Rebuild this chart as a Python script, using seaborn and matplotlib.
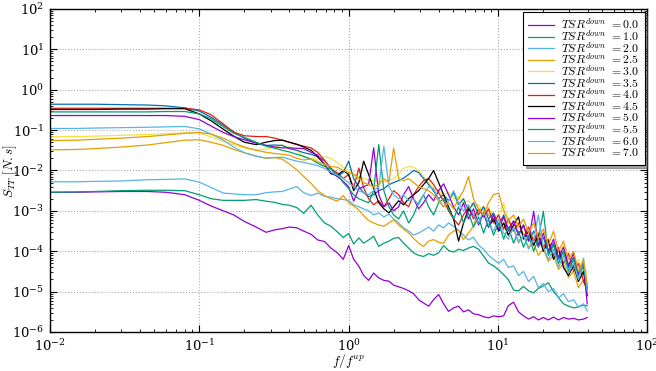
import numpy as np
import pandas as pd
import matplotlib
matplotlib.use('Agg')
import matplotlib.pyplot as plt
import seaborn as sns

# normalised frequency f / f^up
freq = [0.01, 0.015, 0.02, 0.03, 0.045, 0.06, 0.08, 0.1, 0.12, 0.145, 0.17, 0.2, 0.24, 0.28,
        0.32, 0.36, 0.4, 0.45, 0.5, 0.56, 0.62, 0.69, 0.76, 0.84, 0.92,
        1.0, 1.08, 1.17, 1.26, 1.36, 1.47, 1.59, 1.72, 1.86, 2.0,
        2.16, 2.33, 2.52, 2.72, 2.94, 3.17, 3.43, 3.7, 4.0, 4.32,
        4.66, 5.04, 5.44, 5.87, 6.34, 6.85, 7.4, 8.0, 8.63, 9.32,
        10.1, 10.9, 11.7, 12.7, 13.7, 14.8, 16.0, 17.3, 18.6, 20.1,
        21.7, 23.5, 25.4, 27.4, 29.6, 32.0, 34.5, 37.3, 39.5]

# log10 of S_TT for each downstream TSR
log_00 = [-2.54, -2.54, -2.53, -2.52, -2.52, -2.54, -2.60, -2.74, -2.88, -3.00, -3.10, -3.26, -3.40, -3.53,
          -3.47, -3.44, -3.40, -3.42, -3.50, -3.58, -3.72, -3.76, -3.92, -4.04, -4.20,
          -3.86, -4.20, -4.37, -4.60, -4.72, -4.54, -4.66, -4.72, -4.74, -4.84,
          -4.88, -4.92, -4.98, -5.05, -5.20, -5.28, -5.36, -5.20, -5.07, -5.30,
          -5.49, -5.40, -5.36, -5.50, -5.45, -5.55, -5.57, -5.62, -5.65, -5.60,
          -5.62, -5.60, -5.35, -5.26, -5.50, -5.60, -5.68, -5.62, -5.70, -5.64,
          -5.70, -5.63, -5.70, -5.64, -5.68, -5.66, -5.70, -5.68, -5.64]
log_10 = [-2.54, -2.53, -2.52, -2.50, -2.49, -2.49, -2.50, -2.60, -2.70, -2.74, -2.74, -2.74, -2.72, -2.76,
          -2.79, -2.84, -2.86, -2.92, -3.06, -2.86, -3.10, -3.30, -3.38, -3.52, -3.66,
          -3.56, -3.82, -3.67, -3.80, -3.72, -3.63, -3.88, -3.80, -3.75, -3.68,
          -3.66, -3.80, -3.92, -4.04, -4.10, -4.13, -4.06, -4.10, -4.04, -3.86,
          -3.98, -4.02, -3.95, -3.98, -3.92, -3.88, -3.95, -4.12, -4.29, -4.36,
          -4.46, -4.58, -4.70, -4.96, -4.98, -4.87, -4.98, -5.03, -4.92, -4.86,
          -4.78, -5.00, -5.15, -5.30, -5.36, -5.40, -5.38, -5.33, -5.35]
log_20 = [-2.28, -2.28, -2.27, -2.26, -2.23, -2.22, -2.21, -2.29, -2.42, -2.56, -2.58, -2.60, -2.60, -2.55,
          -2.53, -2.52, -2.46, -2.40, -2.55, -2.62, -2.56, -2.64, -2.66, -2.70, -2.72,
          -2.74, -2.85, -2.90, -2.95, -3.00, -3.10, -3.05, -3.15, -3.08, -3.20,
          -3.30, -3.42, -3.50, -3.60, -3.55, -3.48, -3.40, -3.50, -3.35, -3.42,
          -3.30, -3.38, -3.48, -3.60, -3.72, -3.65, -3.85, -3.95, -4.10, -4.20,
          -4.30, -4.20, -4.40, -4.36, -4.60, -4.50, -4.75, -4.62, -4.90, -4.80,
          -5.00, -4.92, -5.15, -5.05, -5.25, -5.20, -5.38, -5.30, -5.48]
log_25 = [-1.49, -1.48, -1.46, -1.42, -1.37, -1.31, -1.25, -1.24, -1.30, -1.38, -1.48, -1.56, -1.64, -1.70,
          -1.68, -1.72, -1.84, -1.98, -2.15, -2.32, -2.50, -2.62, -2.70, -2.76, -2.62,
          -2.80, -2.88, -2.98, -3.12, -3.24, -3.30, -3.35, -3.38, -3.30, -3.22,
          -3.35, -3.45, -3.55, -3.68, -3.80, -3.88, -3.75, -3.71, -3.78, -3.80,
          -3.60, -3.50, -3.47, -3.71, -3.55, -3.38, -3.00, -2.90, -3.10, -3.20,
          -3.50, -3.30, -3.60, -3.45, -3.75, -3.60, -3.90, -3.80, -4.10, -3.95,
          -4.25, -4.10, -4.45, -4.30, -4.65, -4.50, -4.90, -4.70, -5.00]
log_30 = [-1.17, -1.16, -1.15, -1.13, -1.11, -1.09, -1.07, -1.07, -1.17, -1.28, -1.36, -1.44, -1.49, -1.47,
          -1.42, -1.37, -1.42, -1.50, -1.68, -1.70, -1.72, -1.66, -1.70, -1.80, -1.92,
          -2.00, -2.08, -2.15, -2.20, -2.23, -2.25, -2.26, -2.27, -2.24, -2.20,
          -2.08, -1.95, -1.90, -1.92, -2.00, -2.15, -2.30, -2.45, -2.50, -2.60,
          -2.55, -2.70, -2.65, -2.80, -2.75, -2.90, -2.85, -3.00, -2.90, -3.15,
          -3.10, -2.80, -3.30, -3.40, -3.35, -3.55, -3.50, -3.70, -3.60, -3.90,
          -3.80, -4.05, -4.20, -3.85, -4.30, -4.40, -4.20, -4.60, -4.50]
log_35 = [-0.36, -0.36, -0.36, -0.37, -0.38, -0.40, -0.45, -0.53, -0.68, -0.88, -1.05, -1.20, -1.32, -1.38,
          -1.37, -1.38, -1.46, -1.50, -1.56, -1.60, -1.66, -1.76, -1.95, -2.15, -2.05,
          -1.77, -2.20, -2.40, -2.55, -2.65, -2.60, -2.50, -2.45, -2.35, -2.30,
          -2.25, -2.19, -2.10, -2.00, -2.05, -2.20, -2.35, -2.50, -2.70, -2.60,
          -2.75, -2.55, -2.85, -2.70, -3.00, -2.80, -3.10, -2.90, -3.20, -3.05,
          -3.35, -3.10, -3.45, -3.25, -3.60, -3.35, -3.75, -3.50, -3.90, -3.65,
          -4.05, -3.80, -4.20, -4.00, -4.40, -4.15, -4.60, -4.30, -4.90]
log_40 = [-0.46, -0.46, -0.46, -0.46, -0.46, -0.46, -0.46, -0.50, -0.62, -0.85, -1.05, -1.14, -1.16, -1.16,
          -1.20, -1.25, -1.30, -1.36, -1.40, -1.44, -1.55, -1.75, -1.95, -2.06, -2.20,
          -2.10, -2.43, -1.94, -2.43, -2.70, -2.85, -2.75, -2.90, -2.70, -2.50,
          -2.60, -2.80, -2.90, -2.60, -2.40, -2.25, -2.20, -2.35, -2.55, -2.75,
          -3.00, -3.20, -3.35, -3.10, -2.90, -3.20, -2.95, -3.15, -2.95, -3.30,
          -3.10, -3.45, -3.20, -3.50, -3.30, -3.65, -3.40, -3.75, -3.55, -3.90,
          -3.70, -4.10, -3.90, -4.30, -4.05, -4.50, -4.30, -4.75, -4.95]
log_45 = [-0.49, -0.49, -0.49, -0.48, -0.48, -0.47, -0.47, -0.60, -0.77, -0.98, -1.15, -1.30, -1.36, -1.30,
          -1.26, -1.25, -1.30, -1.35, -1.42, -1.50, -1.66, -1.85, -2.08, -2.12, -2.00,
          -2.10, -2.50, -2.30, -1.77, -2.10, -2.45, -2.80, -2.95, -3.05, -2.90,
          -2.75, -2.85, -2.70, -2.60, -2.50, -2.35, -2.20, -2.00, -2.30, -2.60,
          -2.90, -3.20, -3.75, -3.30, -2.95, -3.10, -3.30, -3.05, -3.40, -3.20,
          -3.50, -3.30, -3.60, -3.35, -3.15, -3.70, -3.50, -3.85, -3.60, -4.00,
          -3.75, -4.20, -3.95, -4.40, -4.60, -4.35, -4.75, -4.50, -5.10]
log_50 = [-0.64, -0.64, -0.64, -0.64, -0.64, -0.64, -0.66, -0.74, -0.90, -1.06, -1.16, -1.24, -1.32, -1.38,
          -1.42, -1.44, -1.44, -1.45, -1.46, -1.55, -1.62, -1.85, -2.05, -2.15, -2.27,
          -2.40, -2.76, -2.45, -2.40, -2.35, -1.44, -2.60, -2.90, -2.80, -3.00,
          -2.90, -2.60, -2.40, -2.70, -2.95, -2.80, -2.60, -2.75, -2.50, -2.33,
          -2.60, -2.90, -3.10, -2.80, -3.20, -2.95, -3.35, -3.05, -3.40, -3.10,
          -3.45, -3.15, -3.50, -3.25, -3.60, -3.35, -3.75, -3.01, -3.85, -3.55,
          -4.00, -3.70, -4.15, -3.90, -4.35, -4.05, -4.55, -4.30, -5.30]
log_55 = [-0.55, -0.55, -0.55, -0.55, -0.55, -0.54, -0.54, -0.60, -0.72, -0.92, -1.08, -1.18, -1.30, -1.40,
          -1.45, -1.50, -1.54, -1.60, -1.65, -1.72, -1.82, -1.90, -1.96, -2.10, -2.30,
          -2.45, -2.60, -2.70, -2.75, -2.80, -2.50, -1.36, -2.50, -2.90, -3.10,
          -3.20, -3.00, -3.30, -3.10, -2.80, -2.60, -2.90, -3.10, -2.80, -2.70,
          -2.95, -3.20, -2.90, -3.30, -3.05, -3.40, -3.15, -3.55, -3.20, -3.60,
          -3.30, -3.70, -3.40, -3.80, -3.50, -3.90, -3.60, -4.00, -3.70, -3.01,
          -4.10, -3.85, -4.30, -4.00, -4.50, -4.20, -4.65, -4.35, -4.90]
log_60 = [-0.96, -0.96, -0.95, -0.94, -0.93, -0.92, -0.91, -0.97, -1.10, -1.25, -1.42, -1.56, -1.65, -1.69,
          -1.68, -1.67, -1.72, -1.77, -1.80, -1.84, -1.88, -1.95, -2.04, -2.12, -2.20,
          -2.30, -2.40, -2.50, -2.55, -2.60, -2.50, -2.40, -1.40, -2.40, -2.60,
          -2.70, -2.60, -2.75, -2.70, -2.85, -2.60, -2.40, -2.45, -2.70, -2.90,
          -2.75, -2.50, -2.80, -3.00, -2.85, -3.10, -3.30, -3.00, -3.35, -3.50,
          -3.20, -3.55, -3.70, -3.40, -3.80, -3.60, -3.95, -3.70, -3.10, -3.90,
          -4.20, -3.95, -4.40, -4.10, -4.55, -4.30, -4.70, -4.17, -5.00]
log_70 = [-1.26, -1.25, -1.23, -1.20, -1.16, -1.12, -1.08, -1.06, -1.10, -1.20, -1.32, -1.42, -1.50, -1.55,
          -1.58, -1.60, -1.62, -1.70, -1.74, -1.72, -1.78, -1.85, -1.90, -1.92, -2.00,
          -2.05, -2.10, -2.20, -2.30, -2.35, -2.40, -2.35, -2.20, -2.30, -1.44,
          -2.20, -2.25, -2.20, -2.30, -2.40, -2.45, -2.50, -2.60, -2.75, -2.90,
          -2.80, -2.95, -2.70, -2.50, -2.15, -2.70, -2.95, -3.10, -2.80, -2.60,
          -2.56, -3.00, -3.25, -3.10, -3.40, -3.20, -3.55, -3.30, -3.70, -3.45,
          -3.85, -3.50, -4.00, -3.75, -4.20, -4.00, -4.50, -4.20, -4.80]

tsr_labels = ['0.0', '1.0', '2.0', '2.5', '3.0', '3.5', '4.0', '4.5', '5.0', '5.5', '6.0', '7.0']
curves = [log_00, log_10, log_20, log_25, log_30, log_35, log_40, log_45, log_50, log_55, log_60, log_70]
colors = ['#9400D3', '#009E73', '#56B4E9', '#E69F00', '#F0E442', '#0072B2',
          '#E51E10', '#000000', '#9400D3', '#009E73', '#56B4E9', '#E69F00']

frames = []
for tsr, vals in zip(tsr_labels, curves):
    frames.append(pd.DataFrame({'f': freq, 'S': 10.0 ** np.array(vals), 'TSR': tsr}))
df = pd.concat(frames, ignore_index=True)

plt.rcParams['mathtext.fontset'] = 'cm'
plt.rcParams['font.family'] = ['DejaVu Serif']
plt.rcParams['axes.linewidth'] = 1.0

fig = plt.figure(figsize=(6.56, 3.71), dpi=100)
ax = fig.add_axes([0.076, 0.105, 0.911, 0.871])
sns.lineplot(data=df, x='f', y='S', hue='TSR', hue_order=tsr_labels, palette=colors,
             linewidth=0.9, estimator=None, sort=False, ax=ax)
ax.set_xscale('log')
ax.set_yscale('log')
ax.set_xlim(1e-2, 1e2)
ax.set_ylim(1e-6, 1e2)
ax.grid(True, which='major', linestyle=':', color='#aaaaaa', linewidth=0.8)
ax.tick_params(which='both', direction='in', top=True, right=True, labelsize=9.5, pad=4)
ax.tick_params(which='major', length=5)
ax.tick_params(which='minor', length=2.5)
ax.set_xlabel(r'$f/f^{up}$', fontsize=9.5)
ax.set_ylabel(r'$S_{TT}\ [N.s]$', fontsize=9.5)
ax.yaxis.set_label_coords(-0.052, 0.5)
ax.xaxis.set_label_coords(0.5, -0.062)

handles, _ = ax.get_legend_handles_labels()
leg = ax.legend(handles, [r'$TSR^{down}$ $= %s$' % t for t in tsr_labels],
                loc='upper right', fontsize=8.5, fancybox=False, shadow=True,
                edgecolor='black', framealpha=1, labelspacing=-0.28,
                handlelength=2.2, handletextpad=0.6, borderaxespad=0.25, borderpad=0.45)
leg.get_frame().set_linewidth(0.8)

fig.savefig('out.png', dpi=100)
